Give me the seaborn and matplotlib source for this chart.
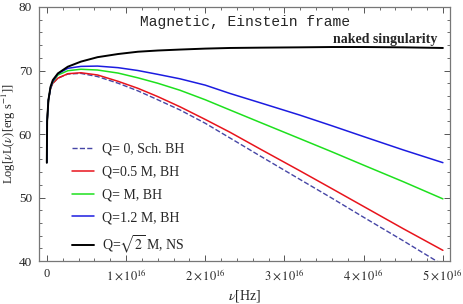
import numpy as np
import pandas as pd
import seaborn as sns
import matplotlib
matplotlib.use("Agg")
import matplotlib.pyplot as plt
from matplotlib.ticker import MultipleLocator

# Data (frequency in units of 1e16 Hz)
nu = [0.0, 0.004, 0.02, 0.047, 0.076, 0.14, 0.265, 0.43, 0.64, 0.9, 1.15, 1.4,
      1.68, 2.0, 2.31, 2.7, 3.19, 3.6, 4.0, 4.5, 5.0]
q0_sch = [55.5, 62.0, 65.3, 67.2, 68.0, 68.8, 69.45, 69.55, 69.05, 68.0, 66.8, 65.4,
          63.8, 61.7, 59.4, 56.5, 52.9, 49.9, 46.9, 43.2, 39.4]
q05 = [55.5, 62.0, 65.3, 67.2, 68.0, 68.8, 69.5, 69.65, 69.3, 68.3, 67.2, 65.9,
       64.3, 62.3, 60.3, 57.6, 54.25, 51.4, 48.6, 45.1, 41.7]
q1 = [55.5, 62.0, 65.3, 67.3, 68.2, 69.3, 69.97, 70.2, 70.08, 69.6, 68.85, 68.0,
      66.9, 65.4, 63.8, 61.8, 59.3, 57.2, 55.1, 52.5, 49.8]
q12 = [55.5, 62.0, 65.3, 67.3, 68.3, 69.5, 70.35, 70.65, 70.7, 70.45, 70.0, 69.4,
       68.7, 67.7, 66.4, 64.9, 63.0, 61.3, 59.6, 57.5, 55.5]
q_ns = [55.5, 62.0, 65.35, 67.45, 68.5, 69.55, 70.6, 71.4, 72.1, 72.6, 72.96, 73.15,
        73.3, 73.45, 73.55, 73.6, 73.65, 73.7, 73.7, 73.65, 73.55]

labels = ["Q= 0, Sch. BH", "Q=0.5 M, BH", "Q= M, BH", "Q=1.2 M, BH", r"Q=$\sqrt{2}$ M, NS"]
colors = ["#4646a6", "#e8141c", "#1ee01e", "#1c1ce0", "#000000"]
styles = ["--", "-", "-", "-", "-"]
widths = [1.0, 1.1, 1.1, 1.1, 1.4]

sns.set_style("ticks")
plt.rcParams["font.family"] = ["Liberation Serif", "DejaVu Serif"]
plt.rcParams["mathtext.fontset"] = "stix"

fig = plt.figure(figsize=(4.63, 3.04), dpi=100)
ax = fig.add_axes([0.084, 0.141, 0.888, 0.836])

series = [q0_sch, q05, q1, q12, q_ns]
for vals, lab, c, ls, lw in zip(series, labels, colors, styles, widths):
    df = pd.DataFrame({"nu": np.array(nu) * 1e16, "L": vals})
    sns.lineplot(data=df, x="nu", y="L", ax=ax, color=c, linestyle=ls, linewidth=lw, label=lab)

ax.set_xlim(-0.1e16, 5.09e16)
ax.set_ylim(40, 80)

xt = [0, 1e16, 2e16, 3e16, 4e16, 5e16]
xtl = ["0", r"$1\times10^{16}$", r"$2\times10^{16}$", r"$3\times10^{16}$", r"$4\times10^{16}$", r"$5\times10^{16}$"]
ax.set_xticks(xt)
ax.set_xticklabels(xtl, fontsize=9)
ax.xaxis.set_minor_locator(MultipleLocator(0.2e16))
ax.set_yticks([40, 50, 60, 70, 80])
ax.set_yticklabels(["40", "50", "60", "70", "80"], fontsize=9.5)
ax.yaxis.set_minor_locator(MultipleLocator(2))
ax.tick_params(which="both", direction="in", top=True, right=True, color="#555555")
ax.tick_params(which="major", length=4, width=0.7, pad=5)
ax.tick_params(which="minor", length=2, width=0.6)
for s in ax.spines.values():
    s.set_color("#777777")
    s.set_linewidth(0.9)

ax.set_xlabel(r"$\nu$[Hz]", fontsize=10, labelpad=3)
ax.set_ylabel(r"Log[$\nu$L($\nu$)[erg s$^{-1}$]]", fontsize=9)
ax.yaxis.set_label_coords(-0.052, 0.5)

ax.text(0.246, 0.941, "Magnetic, Einstein frame", transform=ax.transAxes,
        family="Liberation Mono", fontsize=10.5, ha="left", va="center")
ax.text(0.968, 0.874, "naked singularity", transform=ax.transAxes,
        fontsize=10, fontweight="bold", ha="right", va="center")

ax.legend(loc="upper left", bbox_to_anchor=(0.08, 0.465), frameon=False, fontsize=10,
          handlelength=1.6, handletextpad=0.6, labelspacing=0.7, borderpad=0, borderaxespad=0)

fig.savefig("out.png", dpi=100)
